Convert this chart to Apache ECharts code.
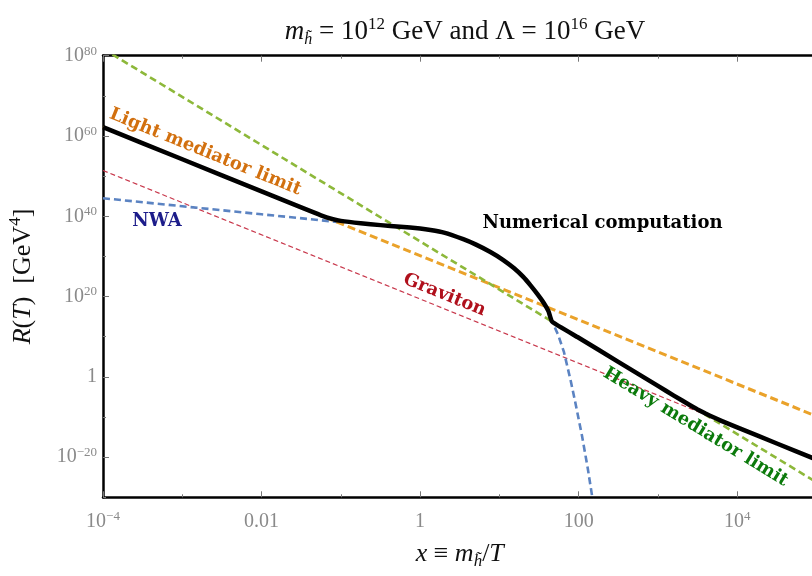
<!DOCTYPE html>
<html>
<head>
<meta charset="utf-8">
<script src="https://cdn.jsdelivr.net/npm/echarts@6/dist/echarts.min.js"></script>
<style>
  html, body { margin: 0; padding: 0; background: #fff; }
  #chart { width: 812px; height: 576px; }
</style>
</head>
<body>
<div id="chart"></div>
<script>
// Interaction rate R(T) against x = m/T on log-log axes.

// Full numerical result
const numericalX = [1e-4, 1e-3, 0.01, 0.0316, 0.0562, 0.0794, 0.1, 0.178, 0.316, 0.562, 1, 1.35, 2.0, 3.5, 5.0, 7.7, 11.2, 15.2, 20, 24.7, 30.2, 36.3, 41.7, 46.3, 100, 316, 1000, 1585, 2512, 3162, 3981, 5012, 6310, 1e4, 31623, 1e5];
const numericalY = [1.58e62, 1.58e54, 1.58e46, 1.58e42, 1.78e40, 2.0e39, 7.1e38, 1.78e38, 6.3e37, 2.5e37, 8.9e36, 4.0e36, 8.9e35, 2.0e34, 1.0e33, 1.26e31, 1.26e29, 1.26e27, 7.9e24, 6.3e22, 4.0e20, 2.5e18, 2.0e16, 5.6e13, 5.6e9, 5.5e3, 5.6e-3, 2.2e-5, 1.0e-7, 7.9e-9, 7.4e-10, 8.5e-11, 1.12e-11, 2.6e-13, 2.5e-17, 2.5e-21];

// Narrow-width approximation
const nwaX = [1e-4, 1e-3, 0.01, 0.0891, 0.1, 0.178, 0.316, 0.562, 1, 1.35, 2.0, 3.5, 5.0, 7.7, 11.2, 15.2, 20, 24.7, 30.2, 36.3, 41.7, 46.3, 55, 65, 79, 91, 110, 130, 150];
const nwaY = [3.16e44, 3.16e42, 3.16e40, 4.0e38, 7.1e38, 1.78e38, 6.3e37, 2.5e37, 8.9e36, 4.0e36, 8.9e35, 2.0e34, 1.0e33, 1.26e31, 1.26e29, 1.26e27, 7.9e24, 6.3e22, 4.0e20, 2.5e18, 2.0e16, 5.6e13, 3.2e10, 2.0e6, 1.6e-1, 3.2e-7, 2.5e-15, 2.0e-23, 3.2e-31];

// Power-law limits
const lightX = [1e-4, 1e5];
const lightY = [1.58e62, 1.58e-10];
const heavyX = [1e-4, 1e5];
const heavyY = [5.5e81, 5.5e-27];
const gravitonX = [1e-4, 1e5];
const gravitonY = [2.5e51, 2.5e-21];

// Axis ticks and labels
const xMajorTicks = [1e-4, 0.01, 1, 100, 1e4];
const xMajorLabels = ['10^−4', '0.01', '1', '100', '10^4'];
const xMinorTicks = [1e-3, 0.1, 10, 1000, 1e5];
const yMajorTicks = [1e-20, 1, 1e20, 1e40, 1e60, 1e80];
const yMajorLabels = ['10^−20', '1', '10^20', '10^40', '10^60', '10^80'];
const yMinorTicks = [1e-30, 1e-10, 1e10, 1e30, 1e50, 1e70];

// Curve annotations (anchor in data coordinates)
const notes = [
  { text: 'Light mediator limit', x: 1.95e-3, y: 1e56, color: '#d2700f', along: 'light' },
  { text: 'NWA', x: 4.8e-4, y: 5e38, color: '#1c1c8a', along: null },
  { text: 'Numerical computation', x: 200, y: 2.1e38, color: '#000000', along: null },
  { text: 'Graviton', x: 2.03, y: 2.5e20, color: '#b0101c', along: 'graviton' },
  { text: 'Heavy mediator limit', x: 2980, y: 3.2e-13, color: '#0b7a0b', along: 'heavy' }
];

const SERIF = '"Liberation Serif", "DejaVu Serif", serif';
const NOTE_FONT = '"DejaVu Serif", serif';
const GRAY = '#8a8a8a';

function pairs(xs, ys) { return xs.map((x, i) => [x, ys[i]]); }

function richLabel(text) {
  const k = text.indexOf('^');
  if (k < 0) return '{b|' + text + '}';
  return '{b|' + text.slice(0, k) + '}{s|' + text.slice(k + 1) + '}';
}
function labelFor(ticks, labels) {
  return function (v) {
    for (let i = 0; i < ticks.length; i++) {
      if (Math.abs(Math.log10(v) - Math.log10(ticks[i])) < 1e-6) return richLabel(labels[i]);
    }
    return '';
  };
}
const tickRich = {
  b: { fontFamily: SERIF, fontSize: 20, color: GRAY, lineHeight: 22 },
  s: { fontFamily: SERIF, fontSize: 13, color: GRAY, lineHeight: 11, verticalAlign: 'top' }
};
const nameRich = {
  r: { fontFamily: SERIF, fontSize: 26, color: '#111', lineHeight: 32 },
  i: { fontFamily: SERIF, fontSize: 26, fontStyle: 'italic', color: '#111', lineHeight: 32 },
  s: { fontFamily: SERIF, fontSize: 17, color: '#111', lineHeight: 17, verticalAlign: 'top' },
  sub: { fontFamily: SERIF, fontSize: 17, fontStyle: 'italic', color: '#111', lineHeight: 17, verticalAlign: 'bottom' }
};

function logAxis(kind, opts) {
  const isX = kind === 'x';
  const base = {
    type: 'log', logBase: 10,
    min: isX ? 1e-4 : 1e-30,
    max: isX ? 1e5 : 1e80,
    position: opts.position,
    splitLine: { show: false },
    axisLine: { show: !!opts.line, onZero: false, lineStyle: { color: '#000', width: 2.5 } },
    axisTick: { show: true, inside: true, length: opts.tickLen, customValues: opts.ticks, lineStyle: { color: '#777', width: 1 } },
    axisLabel: opts.labels ? {
      show: true, customValues: opts.ticks, formatter: opts.labels, rich: tickRich,
      margin: isX ? 13 : 6
    } : { show: false }
  };
  if (opts.name) {
    base.name = opts.name;
    base.nameLocation = 'middle';
    base.nameGap = opts.nameGap;
    base.nameTextStyle = { rich: nameRich };
    if (!isX) base.nameRotate = 90;
  }
  return base;
}

const chart = echarts.init(document.getElementById('chart'));

const dashed = (color, width, dash, z) => ({
  showSymbol: false, symbol: 'none', z: z,
  lineStyle: { color: color, width: width, type: dash, cap: 'butt' }
});

chart.setOption({
  animation: false,
  backgroundColor: '#ffffff',
  title: {
    text: '{i|m}{sub|h̃}{r| = 10}{s|12}{r| GeV and Λ = 10}{s|16}{r| GeV}',
    left: 460, top: 11, textAlign: 'center',
    textStyle: {
      fontWeight: 'normal',
      rich: {
        r: { fontFamily: SERIF, fontSize: 27, fontWeight: 'normal', color: '#111', lineHeight: 32 },
        i: { fontFamily: SERIF, fontSize: 27, fontWeight: 'normal', fontStyle: 'italic', color: '#111', lineHeight: 32 },
        s: { fontFamily: SERIF, fontSize: 17, fontWeight: 'normal', color: '#111', lineHeight: 17, verticalAlign: 'top' },
        sub: { fontFamily: SERIF, fontSize: 16, fontWeight: 'normal', fontStyle: 'italic', color: '#111', lineHeight: 16, verticalAlign: 'bottom' }
      }
    }
  },
  grid: { left: 103, top: 55.7, width: 713.5, height: 441.6, containLabel: false, outerBoundsMode: 'none' },
  xAxis: [
    logAxis('x', { position: 'bottom', line: true, tickLen: 6, ticks: xMajorTicks, labels: labelFor(xMajorTicks, xMajorLabels),
      name: '{i|x}{r| ≡ }{i|m}{sub|h̃}{r|/}{i|T}', nameGap: 41 }),
    logAxis('x', { position: 'bottom', tickLen: 3, ticks: xMinorTicks }),
    logAxis('x', { position: 'top', line: true, tickLen: 6, ticks: xMajorTicks }),
    logAxis('x', { position: 'top', tickLen: 3, ticks: xMinorTicks })
  ],
  yAxis: [
    logAxis('y', { position: 'left', line: true, tickLen: 6, ticks: yMajorTicks, labels: labelFor(yMajorTicks, yMajorLabels),
      name: '{i|R}{r|(}{i|T}{r|)  [GeV}{s|4}{r|]}', nameGap: 64 }),
    logAxis('y', { position: 'left', tickLen: 3, ticks: yMinorTicks })
  ],
  series: [
    Object.assign({ id: 'graviton', type: 'line', data: pairs(gravitonX, gravitonY) }, dashed('#c8374b', 1.2, [5, 3], 2)),
    Object.assign({ id: 'nwa', type: 'line', data: pairs(nwaX, nwaY) }, dashed('#5b83c2', 2.6, [7, 4], 3)),
    Object.assign({ id: 'light', type: 'line', data: pairs(lightX, lightY) }, dashed('#eaa22a', 3, [8, 4], 4)),
    Object.assign({ id: 'heavy', type: 'line', data: pairs(heavyX, heavyY) }, dashed('#8db83a', 2.6, [7, 4], 5)),
    { id: 'numerical', type: 'line', data: pairs(numericalX, numericalY), showSymbol: false, symbol: 'none', z: 6,
      smooth: 0.15, lineStyle: { color: '#000', width: 4.5, join: 'round' } }
  ]
});

// Place the curve annotations, tilted along their lines
const lineData = { light: [lightX, lightY], heavy: [heavyX, heavyY], graviton: [gravitonX, gravitonY] };
const toPx = (p) => chart.convertToPixel({ xAxisIndex: 0, yAxisIndex: 0 }, p);
chart.setOption({
  graphic: notes.map((n) => {
    const p = toPx([n.x, n.y]);
    let rot = 0;
    if (n.along) {
      const d = lineData[n.along];
      const a = toPx([d[0][0], d[1][0]]);
      const b = toPx([d[0][1], d[1][1]]);
      rot = -Math.atan2(b[1] - a[1], b[0] - a[0]);
    }
    return {
      type: 'text', x: p[0], y: p[1], rotation: rot, z: 100,
      style: { text: n.text, fill: n.color, fontFamily: NOTE_FONT, fontWeight: 'bold', fontSize: 18, align: 'center', verticalAlign: 'middle' }
    };
  })
});
</script>
</body>
</html>
